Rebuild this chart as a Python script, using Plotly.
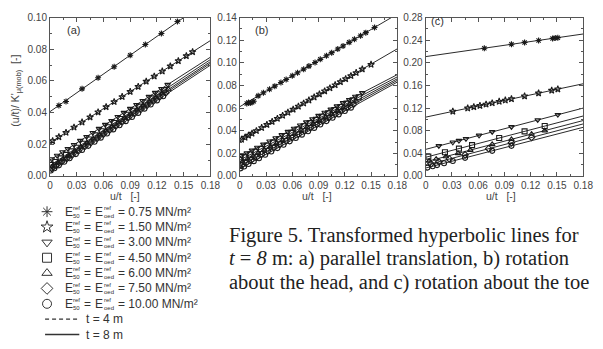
import plotly.graph_objects as go

W, H = 603, 349
INK = "#1a1a1a"
AXIS = "#555555"
LABEL = "#444444"
SANS = "Liberation Sans, Arial, sans-serif"
SERIF = "Liberation Serif, Times New Roman, serif"

# u/t axis ticks shared by the three panels
u_ticks = [0, 0.03, 0.06, 0.09, 0.12, 0.15, 0.18]
u_ticklabels = ["0", "0.03", "0.06", "0.09", "0.12", "0.15", "0.18"]

# reference stiffness E50 = Eoed of the seven soils [MN/m²]
e_ref = ["0.75", "1.50", "3.00", "4.50", "6.00", "7.50", "10.00"]

# fitted hyperbolic lines for t = 8 m: ordinate at u/t = 0 and u/t = 0.18
fit_u = [0.0, 0.18]
a_fit_start = [0.0406, 0.0210, 0.0100, 0.0066, 0.0050, 0.0040, 0.0030]
a_fit_end = [0.1119, 0.0855, 0.0750, 0.0735, 0.0722, 0.0712, 0.0700]
b_fit_start = [0.0612, 0.0313, 0.0170, 0.0140, 0.0114, 0.0085, 0.0063]
b_fit_end = [0.1431, 0.1124, 0.0896, 0.0876, 0.0859, 0.0845, 0.0830]
c_fit_start = [0.211, 0.104, 0.047, 0.033, 0.025, 0.019, 0.014]
c_fit_end = [0.251, 0.163, 0.120, 0.106, 0.098, 0.092, 0.086]

# (a) parallel translation: measured points per soil
a_u = [
    [0.010, 0.018, 0.036, 0.054, 0.072, 0.090, 0.107, 0.125, 0.143],
    [0.003, 0.010, 0.018, 0.027, 0.036, 0.045, 0.054, 0.063, 0.072, 0.081,
     0.090, 0.099, 0.108, 0.117, 0.126, 0.135, 0.144, 0.153, 0.160],
    [0.002, 0.008, 0.014, 0.020, 0.027, 0.034, 0.041, 0.048, 0.055, 0.062,
     0.069, 0.076, 0.083, 0.090, 0.097, 0.104, 0.111, 0.118, 0.125, 0.132],
    [0.001, 0.006, 0.012, 0.018, 0.024, 0.030, 0.037, 0.044, 0.051, 0.058,
     0.065, 0.072, 0.079, 0.086, 0.093, 0.100, 0.107, 0.114, 0.121, 0.128],
    [0.003, 0.009, 0.015, 0.021, 0.028, 0.035, 0.042, 0.049, 0.056, 0.063,
     0.070, 0.077, 0.084, 0.091, 0.098, 0.105, 0.112, 0.119, 0.126, 0.133],
    [0.002, 0.007, 0.013, 0.019, 0.025, 0.032, 0.039, 0.046, 0.053, 0.060,
     0.067, 0.074, 0.081, 0.088, 0.095, 0.102, 0.109, 0.116, 0.123, 0.130],
    [0.001, 0.005, 0.010, 0.016, 0.022, 0.029, 0.036, 0.043, 0.050, 0.057,
     0.064, 0.071, 0.078, 0.085, 0.092, 0.099, 0.106, 0.113, 0.120, 0.127],
]
a_v = [
    [0.0445, 0.0470, 0.0550, 0.0620, 0.0690, 0.0762, 0.0830, 0.0900, 0.0975],
    [0.0221, 0.0246, 0.0274, 0.0307, 0.0339, 0.0371, 0.0403, 0.0436, 0.0468, 0.0500,
     0.0532, 0.0564, 0.0597, 0.0629, 0.0661, 0.0693, 0.0726, 0.0758, 0.0783],
    [0.0107, 0.0129, 0.0151, 0.0172, 0.0197, 0.0223, 0.0248, 0.0273, 0.0299, 0.0324,
     0.0349, 0.0374, 0.0400, 0.0425, 0.0450, 0.0475, 0.0501, 0.0526, 0.0551, 0.0577],
    [0.0070, 0.0088, 0.0111, 0.0133, 0.0155, 0.0178, 0.0203, 0.0230, 0.0256, 0.0282,
     0.0308, 0.0334, 0.0360, 0.0386, 0.0412, 0.0438, 0.0464, 0.0490, 0.0516, 0.0542],
    [0.0061, 0.0084, 0.0106, 0.0128, 0.0155, 0.0181, 0.0207, 0.0233, 0.0259, 0.0285,
     0.0311, 0.0337, 0.0364, 0.0390, 0.0416, 0.0442, 0.0468, 0.0494, 0.0520, 0.0546],
    [0.0047, 0.0066, 0.0089, 0.0111, 0.0133, 0.0159, 0.0186, 0.0212, 0.0238, 0.0264,
     0.0290, 0.0316, 0.0342, 0.0369, 0.0395, 0.0421, 0.0447, 0.0473, 0.0499, 0.0525],
    [0.0034, 0.0049, 0.0067, 0.0090, 0.0112, 0.0138, 0.0164, 0.0190, 0.0216, 0.0242,
     0.0268, 0.0294, 0.0320, 0.0346, 0.0372, 0.0398, 0.0425, 0.0451, 0.0477, 0.0503],
]

# (b) rotation about the head
b_u = [
    [0.008, 0.010, 0.012, 0.014, 0.016, 0.021, 0.027, 0.034, 0.040, 0.047, 0.053,
     0.060, 0.066, 0.073, 0.079, 0.086, 0.092, 0.099, 0.105, 0.112, 0.118, 0.125,
     0.131, 0.138, 0.144, 0.154],
    [0.002, 0.006, 0.010, 0.014, 0.019, 0.025, 0.031, 0.037, 0.043, 0.049, 0.055,
     0.061, 0.067, 0.073, 0.079, 0.085, 0.091, 0.097, 0.103, 0.109, 0.115, 0.121,
     0.127, 0.133, 0.140, 0.150],
    [0.002, 0.008, 0.014, 0.020, 0.027, 0.034, 0.041, 0.048, 0.055, 0.062, 0.069,
     0.076, 0.083, 0.090, 0.097, 0.104, 0.111, 0.118, 0.125, 0.132, 0.140],
    [0.001, 0.006, 0.012, 0.018, 0.024, 0.031, 0.038, 0.045, 0.052, 0.059, 0.066,
     0.073, 0.080, 0.087, 0.094, 0.101, 0.108, 0.115, 0.122, 0.129, 0.136],
    [0.003, 0.009, 0.015, 0.021, 0.028, 0.035, 0.042, 0.049, 0.056, 0.063,
     0.070, 0.077, 0.084, 0.091, 0.098, 0.105, 0.112, 0.119, 0.126, 0.133],
    [0.002, 0.007, 0.013, 0.019, 0.025, 0.032, 0.039, 0.046, 0.053, 0.060,
     0.067, 0.074, 0.081, 0.088, 0.095, 0.102, 0.109, 0.116, 0.123, 0.130],
    [0.001, 0.005, 0.010, 0.016, 0.022, 0.029, 0.036, 0.043, 0.050, 0.057,
     0.064, 0.071, 0.078, 0.085, 0.092, 0.099, 0.106, 0.113, 0.120, 0.127],
]
b_v = [
    [0.0640, 0.0650, 0.0645, 0.0652, 0.0660, 0.0708, 0.0735, 0.0767, 0.0794, 0.0826,
     0.0853, 0.0885, 0.0912, 0.0944, 0.0971, 0.1003, 0.1031, 0.1062, 0.1090, 0.1122,
     0.1149, 0.1181, 0.1208, 0.1240, 0.1267, 0.1313],
    [0.0322, 0.0340, 0.0358, 0.0376, 0.0399, 0.0426, 0.0453, 0.0480, 0.0507, 0.0534,
     0.0561, 0.0588, 0.0615, 0.0642, 0.0669, 0.0696, 0.0723, 0.0750, 0.0777, 0.0804,
     0.0831, 0.0858, 0.0885, 0.0912, 0.0944, 0.0985],
    [0.0178, 0.0202, 0.0226, 0.0251, 0.0279, 0.0307, 0.0335, 0.0363, 0.0392, 0.0420,
     0.0448, 0.0476, 0.0504, 0.0533, 0.0561, 0.0589, 0.0617, 0.0646, 0.0674, 0.0702,
     0.0734],
    [0.0144, 0.0165, 0.0189, 0.0214, 0.0238, 0.0267, 0.0295, 0.0324, 0.0353, 0.0381,
     0.0410, 0.0439, 0.0467, 0.0496, 0.0524, 0.0553, 0.0582, 0.0610, 0.0639, 0.0668,
     0.0696],
    [0.0126, 0.0151, 0.0176, 0.0201, 0.0230, 0.0259, 0.0288, 0.0317, 0.0346, 0.0375,
     0.0404, 0.0433, 0.0462, 0.0491, 0.0520, 0.0549, 0.0578, 0.0607, 0.0636, 0.0665],
    [0.0093, 0.0115, 0.0140, 0.0165, 0.0191, 0.0220, 0.0250, 0.0279, 0.0309, 0.0338,
     0.0368, 0.0397, 0.0427, 0.0456, 0.0486, 0.0515, 0.0545, 0.0575, 0.0604, 0.0634],
    [0.0067, 0.0084, 0.0106, 0.0131, 0.0157, 0.0187, 0.0216, 0.0246, 0.0276, 0.0306,
     0.0336, 0.0365, 0.0395, 0.0425, 0.0455, 0.0485, 0.0515, 0.0544, 0.0574, 0.0604],
]

# (c) rotation about the toe
c_u = [
    [0.067, 0.098, 0.113, 0.129, 0.145, 0.148, 0.151],
    [0.031, 0.048, 0.055, 0.062, 0.069, 0.076, 0.084, 0.091, 0.098, 0.113, 0.129,
     0.144, 0.151],
    [0.015, 0.031, 0.038, 0.046, 0.061, 0.076, 0.098, 0.128, 0.151],
    [0.003, 0.022, 0.038, 0.053, 0.084, 0.113, 0.136],
    [0.004, 0.012, 0.023, 0.037, 0.051, 0.076, 0.098, 0.121, 0.136],
    [0.006, 0.015, 0.027, 0.045, 0.072, 0.098, 0.121],
    [0.002, 0.008, 0.013, 0.021, 0.031, 0.045, 0.076, 0.098],
]
c_v = [
    [0.2259, 0.2328, 0.2361, 0.2396, 0.2432, 0.2439, 0.2445],
    [0.1142, 0.1197, 0.1220, 0.1243, 0.1266, 0.1289, 0.1316, 0.1338, 0.1361, 0.1411,
     0.1463, 0.1512, 0.1535],
    [0.0531, 0.0596, 0.0624, 0.0657, 0.0718, 0.0779, 0.0868, 0.0990, 0.1083],
    [0.0342, 0.0419, 0.0484, 0.0545, 0.0671, 0.0789, 0.0882],
    [0.0266, 0.0299, 0.0343, 0.0400, 0.0457, 0.0559, 0.0648, 0.0741, 0.0802],
    [0.0214, 0.0251, 0.0300, 0.0373, 0.0482, 0.0588, 0.0681],
    [0.0148, 0.0172, 0.0192, 0.0224, 0.0264, 0.0320, 0.0444, 0.0532],
]

symbols = ["asterisk-open", "star-open", "triangle-down-open", "square-open",
           "triangle-up-open", "diamond-open", "circle-open"]

panels = [
    ("x", "y", a_u, a_v, a_fit_start, a_fit_end),
    ("x2", "y2", b_u, b_v, b_fit_start, b_fit_end),
    ("x3", "y3", c_u, c_v, c_fit_start, c_fit_end),
]

fig = go.Figure()

for xa, ya, us, vs, f0, f1 in panels:
    for k in range(len(e_ref)):
        fig.add_trace(go.Scatter(
            x=fit_u, y=[f0[k], f1[k]], mode="lines", xaxis=xa, yaxis=ya,
            line=dict(color="#2a2a2a", width=1), showlegend=False, hoverinfo="skip"))
        fig.add_trace(go.Scatter(
            x=us[k], y=vs[k], mode="markers", xaxis=xa, yaxis=ya,
            name=f"E50 = Eoed = {e_ref[k]} MN/m²",
            marker=dict(symbol=symbols[k], size=5, color=INK,
                        line=dict(color=INK, width=1.1)),
            showlegend=False))

# ---- key below panel (a), laid out on a pixel-scaled overlay axis ----
row_y = [213 + 15.9 * i for i in range(9)]
key_x = 45

for k in range(len(e_ref)):
    fig.add_trace(go.Scatter(
        x=[key_x], y=[row_y[k]], mode="markers", xaxis="x4", yaxis="y4",
        marker=dict(symbol=symbols[k], size=9, color="#333",
                    line=dict(color="#333", width=1)),
        showlegend=False, hoverinfo="skip"))

fig.add_trace(go.Scatter(x=[43, 78], y=[row_y[7], row_y[7]], mode="lines",
                         xaxis="x4", yaxis="y4",
                         line=dict(color="#333", width=1.3, dash="4px,3px"),
                         showlegend=False, hoverinfo="skip"))
fig.add_trace(go.Scatter(x=[43, 78], y=[row_y[8], row_y[8]], mode="lines",
                         xaxis="x4", yaxis="y4",
                         line=dict(color="#333", width=1.3),
                         showlegend=False, hoverinfo="skip"))

annotations = []


def label(x, y, text, size=11, color="#333", family=SANS, xanchor="left",
          yanchor="middle", angle=0):
    annotations.append(dict(
        x=x, y=y, xref="x4", yref="y4", text=text, showarrow=False,
        xanchor=xanchor, yanchor=yanchor, textangle=angle,
        font=dict(family=family, size=size, color=color)))


for k, val in enumerate(e_ref):
    y = row_y[k]
    label(61, y, "E", size=12)
    label(70, y - 4, "ref", size=6)
    label(70, y + 4, "50", size=6)
    label(81, y, "=", size=12)
    label(92, y, "E", size=12)
    label(101, y - 4, "ref", size=6)
    label(101, y + 4, "oed", size=6)
    label(115, y, f"= {val} MN/m²", size=12)

label(83, row_y[7], "t = 4 m", size=12)
label(83, row_y[8], "t = 8 m", size=12)

# panel tags
label(63, 25, "(a)")
label(255, 25, "(b)")
label(435, 16, "(c)")

# axis titles
for cx in (125, 321, 509):
    label(cx, 197, "u/t &nbsp; [-]", size=10.5, color=LABEL, xanchor="center")
label(13, 88, "(u/t)/ K'<sub>μ(mob)</sub> &nbsp;[-]", size=10.5, color=LABEL,
      xanchor="center", angle=-90)

# caption
caption = [
    "Figure 5. Transformed hyperbolic lines for",
    "<i>t</i> = <i>8</i> m: a) parallel translation, b) rotation",
    "about the head, and c) rotation about the toe",
]
for i, line in enumerate(caption):
    label(229, 238 + 24 * i, line, size=20.5, color="#222", family=SERIF)

fig.update_layout(annotations=annotations)

# ---- axes ----
def dom(p0, p1, total):
    return [p0 / total, p1 / total]


y_dom = [1 - 176 / H, 1 - 12 / H]
common = dict(showline=True, linecolor=AXIS, linewidth=1, mirror="allticks",
              ticks="inside", ticklen=4, tickcolor=AXIS, tickwidth=1,
              showgrid=False, zeroline=False,
              tickfont=dict(family=SANS, size=10, color=LABEL))

x_domains = [dom(48, 212, W), dom(242, 403, W), dom(432, 593, W)]
y_specs = [(0.10, 0.02, 0.01), (0.14, 0.02, 0.01), (0.28, 0.04, 0.02)]

for i in range(3):
    sfx = "" if i == 0 else str(i + 1)
    ymax, ystep, yminor = y_specs[i]
    fig.update_layout(**{
        f"xaxis{sfx}": dict(common, domain=x_domains[i], range=[0, 0.18],
                            anchor=f"y{sfx}", tickmode="array",
                            tickvals=u_ticks, ticktext=u_ticklabels,
                            minor=dict(ticks="inside", ticklen=2, tickcolor=AXIS,
                                       tick0=0, dtick=0.015)),
        f"yaxis{sfx}": dict(common, domain=y_dom, range=[0, ymax],
                            anchor=f"x{sfx}", tick0=0, dtick=ystep,
                            tickformat=".2f",
                            minor=dict(ticks="inside", ticklen=2, tickcolor=AXIS,
                                       tick0=0, dtick=yminor)),
    })

fig.update_layout(
    xaxis4=dict(domain=[0, 1], range=[0, W], visible=False, anchor="y4",
                fixedrange=True),
    yaxis4=dict(domain=[0, 1], range=[H, 0], visible=False, anchor="x4",
                fixedrange=True),
    width=W, height=H, margin=dict(l=0, r=0, t=0, b=0),
    paper_bgcolor="white", plot_bgcolor="rgba(0,0,0,0)",
    showlegend=False,
)

fig.write_html("out.html")
